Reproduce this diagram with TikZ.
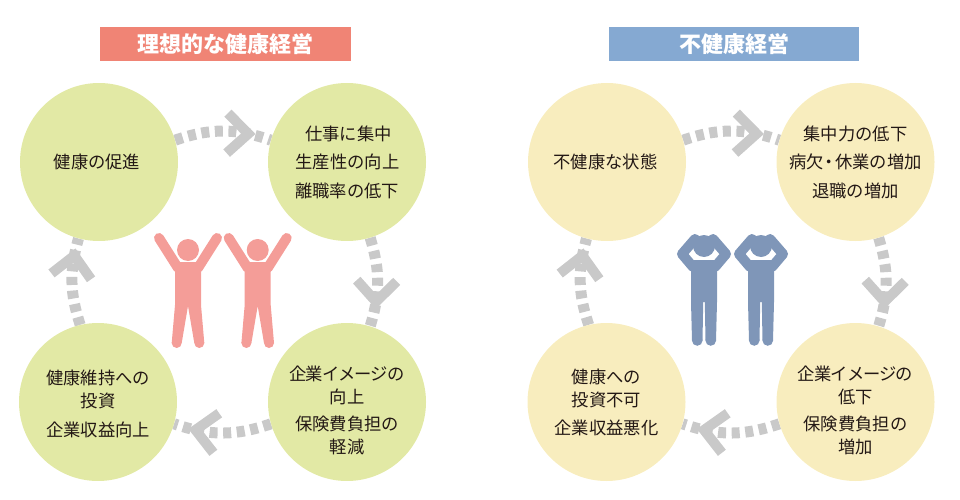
\documentclass[tikz,border=0pt]{standalone}
\usepackage{fontspec}
\setmainfont{Noto Sans CJK JP}
\usetikzlibrary{decorations.markings,backgrounds}
\definecolor{lime}{HTML}{E2E9A5}
\definecolor{cream}{HTML}{F8EDBE}
\definecolor{titlered}{HTML}{F08475}
\definecolor{titleblue}{HTML}{85A9D2}
\definecolor{figred}{HTML}{F49D98}
\definecolor{figblue}{HTML}{7F96B8}
\definecolor{flowgray}{HTML}{C9C9C9}
\definecolor{ink}{HTML}{231815}
\newcommand{\narrowline}[1]{{\addfontfeature{LetterSpace=-5.5}#1}}
\tikzset{
  bubble/.style={circle,minimum size=158pt,inner sep=0pt,align=center,text=ink,
    font=\fontsize{17.3}{23}\selectfont},
  goodbubble/.style={bubble,fill=lime},
  badbubble/.style={bubble,fill=cream},
  titlebar/.style={minimum width=250.5pt,minimum height=34pt,inner sep=0pt,text=white,
    font=\fontsize{22}{26}\selectfont\bfseries},
  chev/.style={draw=flowgray,solid,line width=10pt,miter limit=10,line cap=butt,line join=miter},
  flowline/.style 2 args={draw=flowgray,line width=11pt,dash pattern=on 8pt off 5.6pt,
    postaction={decorate,decoration={markings,mark=at position #1 with {
      \draw[chev,rotate=#2] (-21,20)--(0,0)--(-21,-20);}}}},
  cheerman/.pic={
    \fill (-13,12) -- (-13,55) -- (-16.3,93) -- (-6.3,93) -- (0,56) -- (6.3,93) -- (16.3,93) -- (13,55) -- (13,12) -- cycle;
    \fill (-11.3,93) circle[radius=5pt];
    \fill (11.3,93) circle[radius=5pt];
    \fill (0,0) circle[radius=11pt];
    \draw[line width=10pt,line cap=round] (-29,-12) -- (-10,18);
    \draw[line width=10pt,line cap=round] (29,-12) -- (10,18);
  },
  headman/.pic={
    \fill (-13,15) -- (-13,57) -- (-12,95.5) -- (-1.5,95.5) -- (-0.8,57) -- (0.8,57) -- (1.5,95.5) -- (12,95.5) -- (13,57) -- (13,15) -- cycle;
    \fill (-6.75,95.5) circle[radius=5.3pt];
    \fill (6.75,95.5) circle[radius=5.3pt];
    \fill (0,1) circle[radius=11pt];
    \draw[line width=10pt,line cap=round,line join=round] (-11,22) -- (-22,9) -- (-9,-6);
    \draw[line width=10pt,line cap=round,line join=round] (11,22) -- (22,9) -- (9,-6);
  }
}
\begin{document}
\begin{tikzpicture}[x=1pt,y=-1pt]
\useasboundingbox (0,0) rectangle (960,500);
% titles
\node[titlebar,fill=titlered] (t1) at (225.5,44) {理想的な健康経営};
\node[titlebar,fill=titleblue] (t2) at (734,44) {不健康経営};
% left cycle
\node[goodbubble] (a1) at (99,162) {健康の促進\kern4pt};
\node[goodbubble] (a2) at (347,162) {\kern3pt 仕事に集中\\[5.5pt]\kern1pt 生産性の向上\\[5.5pt]離職率の低下};
\node[goodbubble] (a3) at (347,402) {\rule{0pt}{31pt}\narrowline{企業イメージの}\\向上\\[4pt]保険費負担の\\軽減};
\node[goodbubble] (a4) at (98,402) {\rule{0pt}{19pt}健康維持への\\投資\\[6pt]企業収益向上};
% right cycle
\node[badbubble] (b1) at (607,162) {不健康な状態\kern3pt};
\node[badbubble] (b2) at (855.5,162) {集中力の低下\\[5.5pt]病欠\kern-3pt・\kern-3pt休業の増加\\[5.5pt]退職の増加};
\node[badbubble] (b3) at (855.5,402) {\rule{0pt}{31pt}\narrowline{企業イメージの}\\低下\\[4pt]保険費負担の\\増加};
\node[badbubble] (b4) at (606.5,402) {健康への\\投資不可\\[5pt]企業収益悪化};
\begin{scope}[on background layer]
\draw[flowline={.76}{10}] (a1.16) to[bend left=19] (a2.164);
\draw[flowline={.72}{7.5}] (a2.-73) to[bend left=17] (a3.73);
\draw[flowline={.775}{4}] (a3.196) to[bend left=19] (a4.-16);
\draw[flowline={.80}{2.5}] (a4.103) to[bend left=17] (a1.255);
\draw[flowline={.76}{10}] (b1.16) to[bend left=19] (b2.164);
\draw[flowline={.72}{7.5}] (b2.-73) to[bend left=17] (b3.73);
\draw[flowline={.775}{4}] (b3.196) to[bend left=19] (b4.-16);
\draw[flowline={.80}{2.5}] (b4.103) to[bend left=17] (b1.255);
\end{scope}
% figures
\begin{scope}[color=figred]
\pic at (188,250) {cheerman};
\pic at (257.7,250) {cheerman};
\end{scope}
\begin{scope}[color=figblue]
\pic at (704,245) {headman};
\pic at (761,245) {headman};
\end{scope}
\end{tikzpicture}
\end{document}
